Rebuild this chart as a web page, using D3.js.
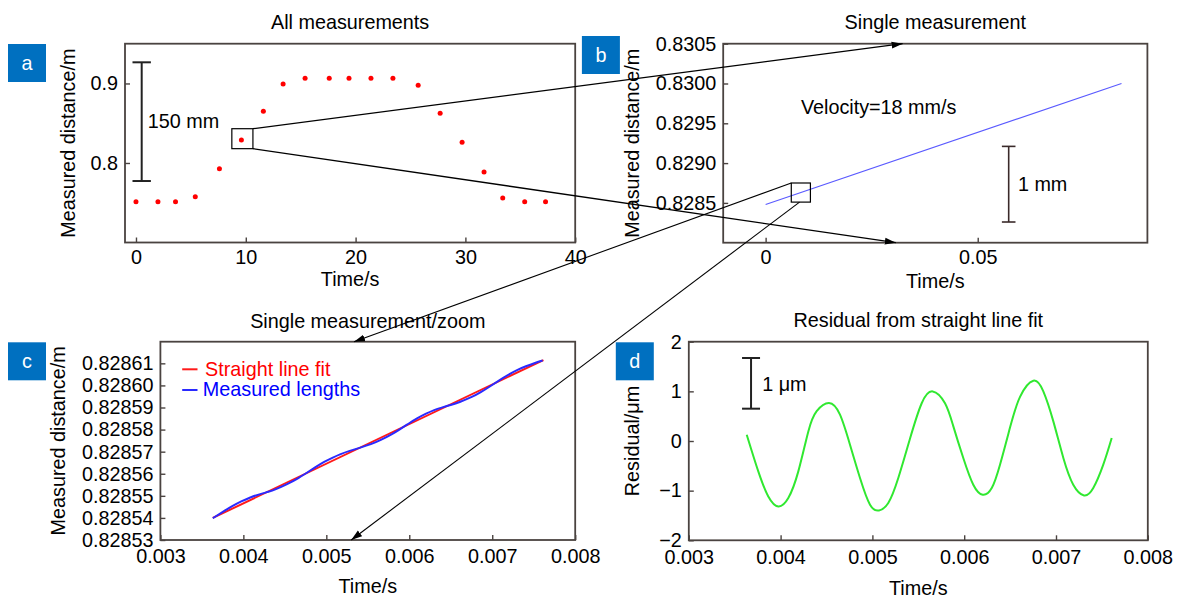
<!DOCTYPE html>
<html><head><meta charset="utf-8">
<script src="https://cdn.jsdelivr.net/npm/d3@7/dist/d3.min.js"></script>
<style>
body{margin:0;background:#fff}
svg{display:block}
text{font-family:"Liberation Sans",Arial,Helvetica,sans-serif}
</style>
</head><body>
<svg id="chart" width="1177" height="599"></svg>
<script>
// ---------- DATA ----------
// Panel a: all measurements
const aTime = [0, 2.0, 3.6, 5.4, 7.6, 9.6, 11.6, 13.4, 15.4, 17.6, 19.4, 21.4, 23.4, 25.7, 27.7, 29.7, 31.7, 33.4, 35.4, 37.3];
const aDist = [0.7513, 0.7513, 0.7513, 0.7576, 0.7928, 0.8289, 0.8650, 0.8993, 0.9065, 0.9065, 0.9065, 0.9065, 0.9065, 0.8977, 0.8625, 0.8260, 0.7887, 0.7560, 0.7513, 0.7513];
const aTicksX = [0, 10, 20, 30, 40];
const aTicksY = [0.8, 0.9];
const aScaleBar = [0.7773, 0.9266];
const aBoxTime = [8.73, 10.65];
const aBoxDist = [0.8180, 0.8431];

// Panel b: single measurement
const bLineTime = [0, 0.0839];
const bLineDist = [0.82848, 0.83000];
const bTicksX = [0, 0.05];
const bTicksY = [0.8285, 0.8290, 0.8295, 0.8300, 0.8305];
const bScaleBar = [0.82826, 0.82921];
const bBoxTime = [0.00605, 0.01056];
const bBoxDist = [0.82851, 0.82875];

// Panel c: single measurement / zoom
const cFitTime = [0.003632, 0.007617];
const cFitDist = [0.8285400, 0.8286115];
const sampleTime = [0.003631, 0.003757, 0.003866, 0.003975, 0.004084, 0.004193, 0.004302, 0.004393, 0.004527, 0.004647,
  0.004756, 0.004865, 0.004974, 0.005072, 0.005173, 0.005282, 0.005410, 0.005537, 0.005657, 0.005791,
  0.005881, 0.005990, 0.006099, 0.006202, 0.006300, 0.006390, 0.006499, 0.006608, 0.006753, 0.006862,
  0.006971, 0.007080, 0.007188, 0.007305, 0.007406, 0.007515, 0.007607];
const cMeasured = [0.82853986, 0.82854286, 0.82854531, 0.82854747, 0.82854926, 0.82855068, 0.82855183, 0.82855302, 0.82855529, 0.82855768,
  0.82856024, 0.82856287, 0.82856536, 0.82856723, 0.82856890, 0.82857035, 0.82857184, 0.82857342, 0.82857533, 0.82857798,
  0.82858002, 0.82858265, 0.82858514, 0.82858719, 0.82858882, 0.82858996, 0.82859117, 0.82859251, 0.82859478, 0.82859695,
  0.82859951, 0.82860221, 0.82860468, 0.82860700, 0.82860866, 0.82861015, 0.82861126];
const cTicksX = [0.003, 0.004, 0.005, 0.006, 0.007, 0.008];
const cTicksY = [0.82853, 0.82854, 0.82855, 0.82856, 0.82857, 0.82858, 0.82859, 0.82860, 0.82861];
const cLegend = ["Straight line fit", "Measured lengths"];

// Panel d: residual (µm)
const dResidual = [0.127, -0.612, -1.116, -1.317, -1.148, -0.612, 0.193, 0.600, 0.765, 0.530,
  -0.075, -0.745, -1.283, -1.398, -1.249, -0.745, 0.050, 0.760, 0.999, 0.760,
  0.300, -0.342, -0.880, -1.082, -0.947, -0.477, 0.270, 0.890, 1.214, 0.999,
  0.395, -0.342, -0.880, -1.096, -0.947, -0.477, 0.060];
const dTicksX = [0.003, 0.004, 0.005, 0.006, 0.007, 0.008];
const dTicksY = [-2, -1, 0, 1, 2];
const dScaleBar = [0.651, 1.672];

// ---------- DRAWING ----------
const svg = d3.select("#chart");
const FONT = 19.8;
const frameColor = "#4a4340";

svg.append("defs").append("marker")
  .attr("id", "arrow").attr("markerUnits", "userSpaceOnUse")
  .attr("markerWidth", 12).attr("markerHeight", 8)
  .attr("refX", 11).attr("refY", 4).attr("orient", "auto")
  .append("path").attr("d", "M0,0.5 L11,4 L0,7.5 Z").attr("fill", "#000");

function panel(cfg) {
  const g = svg.append("g");
  const x = cfg.x, y = cfg.y;
  const [x0, x1] = x.range(), [y1, y0] = y.range();
  const ax = g.append("g").attr("transform", `translate(0,${y1})`)
    .call(d3.axisBottom(x).tickValues(cfg.ticksX).tickFormat(cfg.fmtX)
      .tickSizeInner(-5).tickSizeOuter(0).tickPadding(cfg.padX));
  const ay = g.append("g").attr("transform", `translate(${x0},0)`)
    .call(d3.axisLeft(y).tickValues(cfg.ticksY).tickFormat(cfg.fmtY)
      .tickSizeInner(-5).tickSizeOuter(0).tickPadding(7));
  [ax, ay].forEach(a => {
    a.select(".domain").remove();
    a.selectAll(".tick line").attr("stroke", frameColor).attr("stroke-width", 1.4);
    a.selectAll("text").attr("font-size", FONT).attr("fill", "#000")
      .attr("font-family", '"Liberation Sans",Arial,Helvetica,sans-serif');
    a.attr("font-family", null).attr("font-size", null);
  });
  g.append("rect").attr("x", x0).attr("y", y0).attr("width", x1 - x0).attr("height", y1 - y0)
    .attr("fill", "none").attr("stroke", frameColor).attr("stroke-width", 1.8);
  g.append("text").attr("x", (x0 + x1) / 2).attr("y", cfg.titleY).attr("text-anchor", "middle")
    .attr("font-size", FONT).attr("fill", "#000").text(cfg.title);
  g.append("text").attr("x", (x0 + x1) / 2).attr("y", cfg.xLabelY).attr("text-anchor", "middle")
    .attr("font-size", FONT).attr("fill", "#000").text(cfg.xLabel);
  g.append("text").attr("transform", `translate(${cfg.yLabelX},${(y0 + y1) / 2}) rotate(-90)`)
    .attr("text-anchor", "middle").attr("font-size", FONT).attr("fill", "#000").text(cfg.yLabel);
  const [bx, by] = cfg.badge;
  g.append("rect").attr("x", bx).attr("y", by).attr("width", 38).attr("height", 38).attr("fill", "#0070c0");
  g.append("text").attr("x", bx + 19).attr("y", by + 19).attr("dy", "0.35em").attr("text-anchor", "middle")
    .attr("font-size", FONT).attr("fill", "#fff").text(cfg.letter);
  return g;
}

function scaleBar(g, px, ya, yb, half, color, width) {
  g.append("line").attr("x1", px).attr("x2", px).attr("y1", ya).attr("y2", yb)
    .attr("stroke", color).attr("stroke-width", width);
  [ya, yb].forEach(v => g.append("line").attr("x1", px - half).attr("x2", px + half)
    .attr("y1", v).attr("y2", v).attr("stroke", color).attr("stroke-width", width));
}

// ----- Panel a -----
const xa = d3.scaleLinear().domain([-1, 40]).range([125, 575.2]);
const ya = d3.scaleLinear().domain([0.7, 0.95]).range([242.5, 43.7]);
const ga = panel({x: xa, y: ya, ticksX: aTicksX, ticksY: aTicksY, fmtX: d3.format("d"), fmtY: d3.format(".1f"),
  padX: 7.2, title: "All measurements", titleY: 29.3, xLabel: "Time/s", xLabelY: 286,
  yLabel: "Measured distance/m", yLabelX: 75, badge: [8, 44], letter: "a"});
ga.selectAll(".pt").data(aTime).join("circle").attr("class", "pt")
  .attr("cx", (d) => xa(d)).attr("cy", (d, i) => ya(aDist[i])).attr("r", 2.5).attr("fill", "#ff0000");
scaleBar(ga, xa(0.52), ya(aScaleBar[0]), ya(aScaleBar[1]), 9.2, "#222", 2);
ga.append("text").attr("x", 147.7).attr("y", 128.3).attr("font-size", FONT).text("150 mm");
ga.append("rect").attr("x", xa(aBoxTime[0])).attr("y", ya(aBoxDist[1]))
  .attr("width", xa(aBoxTime[1]) - xa(aBoxTime[0])).attr("height", ya(aBoxDist[0]) - ya(aBoxDist[1]))
  .attr("fill", "none").attr("stroke", "#000").attr("stroke-width", 1.2);

// ----- Panel b -----
const xb = d3.scaleLinear().domain([-0.01, 0.09]).range([723.2, 1147.4]);
const yb = d3.scaleLinear().domain([0.828, 0.8305]).range([242.7, 43.7]);
const gb = panel({x: xb, y: yb, ticksX: bTicksX, ticksY: bTicksY, fmtX: d => d === 0 ? "0" : d3.format(".2f")(d),
  fmtY: d3.format(".4f"), padX: 7.2, title: "Single measurement", titleY: 29.3, xLabel: "Time/s", xLabelY: 288.3,
  yLabel: "Measured distance/m", yLabelX: 639.3, badge: [581.9, 36], letter: "b"});
gb.append("path").datum(bLineTime)
  .attr("d", d3.line().x(d => xb(d)).y((d, i) => yb(bLineDist[i])))
  .attr("fill", "none").attr("stroke", "#5a5aff").attr("stroke-width", 1.2);
gb.append("text").attr("x", 800.9).attr("y", 113.5).attr("font-size", FONT).text("Velocity=18 mm/s");
scaleBar(gb, xb(0.0573), yb(bScaleBar[0]), yb(bScaleBar[1]), 6.8, "#3a2a2a", 1.6);
gb.append("text").attr("x", 1017.9).attr("y", 191).attr("font-size", FONT).text("1 mm");
gb.append("rect").attr("x", xb(bBoxTime[0])).attr("y", yb(bBoxDist[1]))
  .attr("width", xb(bBoxTime[1]) - xb(bBoxTime[0])).attr("height", yb(bBoxDist[0]) - yb(bBoxDist[1]))
  .attr("fill", "none").attr("stroke", "#000").attr("stroke-width", 1.2);

// ----- Panel c -----
const xc = d3.scaleLinear().domain([0.003, 0.008]).range([160.4, 575.2]);
const yc = d3.scaleLinear().domain([0.82853, 0.8286198]).range([540, 341.7]);
const gc = panel({x: xc, y: yc, ticksX: cTicksX, ticksY: cTicksY, fmtX: d3.format(".3f"), fmtY: d3.format(".5f"),
  padX: 9.2, title: "Single measurement/zoom", titleY: 328.3, xLabel: "Time/s", xLabelY: 593.3,
  yLabel: "Measured distance/m", yLabelX: 65.3, badge: [8, 342.3], letter: "c"});
gc.append("path").datum(cFitTime)
  .attr("d", d3.line().x(d => xc(d)).y((d, i) => yc(cFitDist[i])))
  .attr("fill", "none").attr("stroke", "#ff1a1a").attr("stroke-width", 2);
gc.append("path").datum(sampleTime)
  .attr("d", d3.line().curve(d3.curveNatural).x(d => xc(d)).y((d, i) => yc(cMeasured[i])))
  .attr("fill", "none").attr("stroke", "#2a2aff").attr("stroke-width", 2);
const legColors = ["#ff1a1a", "#2a2aff"];
const legText = ["#ff0000", "#0000ff"];
cLegend.forEach((t, i) => {
  const ly = 369.3 + i * 20.7;
  gc.append("line").attr("x1", 182.2).attr("x2", 197.5).attr("y1", ly).attr("y2", ly)
    .attr("stroke", legColors[i]).attr("stroke-width", 2);
  gc.append("text").attr("x", i === 0 ? 205.1 : 202.8).attr("y", ly + 6.4).attr("font-size", FONT)
    .attr("fill", legText[i]).text(t);
});

// ----- Panel d -----
const xd = d3.scaleLinear().domain([0.003, 0.008]).range([688.8, 1147.8]);
const yd = d3.scaleLinear().domain([-2, 2]).range([540.3, 341.7]);
const gd = panel({x: xd, y: yd, ticksX: dTicksX, ticksY: dTicksY, fmtX: d3.format(".3f"), fmtY: d3.format("d"),
  padX: 9.2, title: "Residual from straight line fit", titleY: 327, xLabel: "Time/s", xLabelY: 595,
  yLabel: "Residual/μm", yLabelX: 639.2, badge: [615.8, 342.3], letter: "d"});
gd.append("path").datum(sampleTime)
  .attr("d", d3.line().curve(d3.curveNatural).x(d => xd(d)).y((d, i) => yd(dResidual[i])))
  .attr("fill", "none").attr("stroke", "#30e830").attr("stroke-width", 2);
scaleBar(gd, xd(0.003678), yd(dScaleBar[0]), yd(dScaleBar[1]), 9, "#222", 2);
gd.append("text").attr("x", 762.2).attr("y", 390.7).attr("font-size", FONT).text("1 μm");

// ----- connector arrows -----
const arrows = svg.append("g");
function arrow(x1, y1, x2, y2, w) {
  arrows.append("line").attr("x1", x1).attr("y1", y1).attr("x2", x2).attr("y2", y2)
    .attr("stroke", "#000").attr("stroke-width", w).attr("marker-end", "url(#arrow)");
}
arrow(xa(aBoxTime[1]), ya(aBoxDist[1]), xb(0.0323), yb(0.8305), 1.3);
arrow(xa(aBoxTime[1]), ya(aBoxDist[0]), xb(0.0307), yb(0.828), 1.3);
arrow(xb(bBoxTime[0]), yb(bBoxDist[1]), xc(0.005334), yc.range()[1], 1.1);
arrow(xb(0.0080), yb(bBoxDist[0]), xc(0.0053), yc.range()[0], 1.1);
</script>
</body></html>
